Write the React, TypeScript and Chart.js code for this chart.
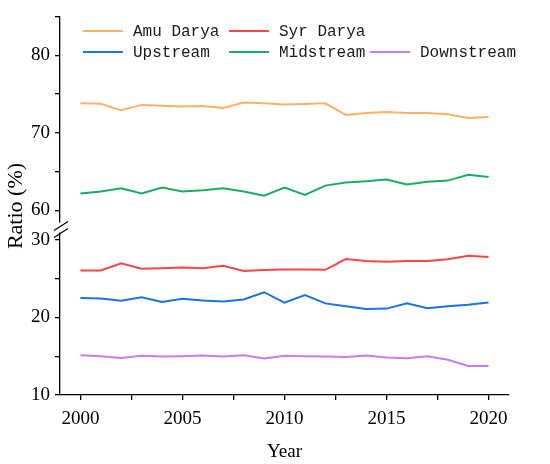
import React, { useEffect, useRef } from "react";
import { Chart, registerables } from "chart.js";

Chart.register(...registerables);

const years = [
  2000, 2001, 2002, 2003, 2004, 2005, 2006, 2007, 2008, 2009, 2010,
  2011, 2012, 2013, 2014, 2015, 2016, 2017, 2018, 2019, 2020,
];

const amuDarya = [
  73.8, 73.75, 72.9, 73.6, 73.5, 73.4, 73.45, 73.2, 73.9, 73.8, 73.65,
  73.7, 73.8, 72.3, 72.55, 72.7, 72.55, 72.55, 72.4, 71.9, 72.05,
];
const syrDarya = [
  26.05, 26.05, 26.97, 26.26, 26.34, 26.43, 26.34, 26.64, 25.97, 26.1, 26.18,
  26.18, 26.13, 27.52, 27.27, 27.18, 27.27, 27.27, 27.48, 27.94, 27.77,
];
const upstream = [
  22.48, 22.44, 22.14, 22.6, 21.97, 22.4, 22.18, 22.06, 22.31, 23.24, 21.89,
  22.86, 21.8, 21.43, 21.09, 21.13, 21.8, 21.18, 21.43, 21.64, 21.93,
];
const midstream = [
  62.2, 62.45, 62.85, 62.2, 62.95, 62.45, 62.6, 62.85, 62.45, 61.9, 62.95,
  62.0, 63.2, 63.6, 63.75, 64.0, 63.35, 63.7, 63.85, 64.6, 64.3,
];
const downstream = [
  15.13, 15.0, 14.78, 15.04, 14.96, 15.0, 15.09, 14.96, 15.13, 14.7, 15.04,
  15.0, 14.96, 14.91, 15.09, 14.83, 14.74, 15.0, 14.53, 13.75, 13.75,
];

// broken y axis: upper and lower part
const topMin = 57.8;
const topMax = 85;
const botMin = 10;
const botMax = 31.57;

const serif = "'Liberation Serif', 'Times New Roman', serif";
const mono = "'Liberation Mono', 'DejaVu Sans Mono', monospace";

// legend slots [lineX, rowY] in the order of the datasets
const legendSlots = [
  [83, 31],
  [229, 31],
  [83, 52],
  [229, 52],
  [370, 52],
];

const toPoints = (vals: number[]) => vals.map((v, i) => ({ x: years[i], y: v }));

const extras = {
  id: "extras",
  afterDraw(chart: any) {
    const ctx = chart.ctx;
    const area = chart.chartArea;
    const yTop = chart.scales.yTop;
    const axisX = area.left;
    const breakY = yTop.bottom;

    ctx.save();
    // gap in the axis line
    ctx.fillStyle = "#fff";
    ctx.fillRect(axisX - 2, breakY - 5, 4, 10);
    // break marks
    ctx.strokeStyle = "#000";
    ctx.lineWidth = 1.2;
    ctx.beginPath();
    ctx.moveTo(axisX - 6, breakY + 3);
    ctx.lineTo(axisX + 8, breakY - 6);
    ctx.moveTo(axisX - 6, breakY + 10);
    ctx.lineTo(axisX + 8, breakY + 1);
    ctx.stroke();

    // y title
    ctx.fillStyle = "#000";
    ctx.font = "22px " + serif;
    ctx.textAlign = "center";
    ctx.textBaseline = "middle";
    ctx.translate(16, 206);
    ctx.rotate(-Math.PI / 2);
    ctx.fillText("Ratio (%)", 0, 0);
    ctx.restore();

    // legend
    ctx.save();
    ctx.font = "16px " + mono;
    ctx.textAlign = "left";
    ctx.textBaseline = "middle";
    chart.data.datasets.forEach((ds: any, i: number) => {
      const [lx, ly] = legendSlots[i];
      ctx.strokeStyle = ds.borderColor;
      ctx.lineWidth = 2;
      ctx.beginPath();
      ctx.moveTo(lx, ly);
      ctx.lineTo(lx + 40, ly);
      ctx.stroke();
      ctx.fillStyle = "#1a1a1a";
      ctx.fillText(ds.label, lx + 50, ly + 1);
    });
    ctx.restore();
  },
};

const axisCommon = {
  border: { display: true, color: "#000", width: 1.3 },
  grid: {
    drawOnChartArea: false,
    drawTicks: true,
    tickLength: 5,
    color: "#000",
    lineWidth: 1.3,
  },
};

const yTicks = {
  stepSize: 5,
  includeBounds: false,
  autoSkip: false,
  padding: 5,
  font: { size: 19 },
  callback: (v: any) => (v % 10 === 0 ? String(v) : ""),
};

const App = () => {
  const canvasRef = useRef<HTMLCanvasElement | null>(null);

  useEffect(() => {
    if (!canvasRef.current) return;
    const ctx = canvasRef.current.getContext("2d");
    if (!ctx) return;

    Chart.defaults.font.family = serif;
    Chart.defaults.color = "#000";

    const line = (label: string, vals: number[], color: string, axis: string) => ({
      label,
      data: toPoints(vals),
      borderColor: color,
      backgroundColor: color,
      borderWidth: 2,
      pointRadius: 0,
      tension: 0,
      yAxisID: axis,
    });

    const chart = new Chart(ctx, {
      type: "line",
      data: {
        datasets: [
          line("Amu Darya", amuDarya, "#FFB066", "yTop"),
          line("Syr Darya", syrDarya, "#F84646", "yBot"),
          line("Upstream", upstream, "#1A72E6", "yBot"),
          line("Midstream", midstream, "#18AD62", "yTop"),
          line("Downstream", downstream, "#C77DF0", "yBot"),
        ],
      },
      options: {
        animation: false,
        responsive: false,
        layout: { padding: { top: 14, right: 41, left: 0, bottom: 0 } },
        plugins: { legend: { display: false }, tooltip: { enabled: false } },
        scales: {
          x: {
            ...axisCommon,
            type: "linear",
            min: 1999,
            max: 2021,
            afterFit: (s: any) => {
              s.height = 69;
            },
            ticks: {
              stepSize: 2.5,
              includeBounds: false,
              autoSkip: false,
              maxRotation: 0,
              padding: 8,
              font: { size: 19 },
              callback: (v: any) => (v % 5 === 0 ? String(v) : ""),
            },
            title: {
              display: true,
              text: "Year",
              font: { size: 19 },
              padding: { top: 0, bottom: 1 },
            },
          },
          // stacked axes: the first one listed sits at the bottom
          yBot: {
            ...axisCommon,
            type: "linear",
            position: "left",
            stack: "ratio",
            stackWeight: botMax - botMin,
            min: botMin,
            max: botMax,
            afterFit: (s: any) => {
              s.width = 60;
            },
            ticks: yTicks,
          },
          yTop: {
            ...axisCommon,
            type: "linear",
            position: "left",
            stack: "ratio",
            stackWeight: topMax - topMin,
            min: topMin,
            max: topMax,
            afterFit: (s: any) => {
              s.width = 60;
            },
            ticks: yTicks,
          },
        },
      } as any,
      plugins: [extras],
    });

    return () => {
      chart.destroy();
    };
  }, []);

  return (
    <div style={{ position: "fixed", left: 0, top: 0, width: 550, height: 464, background: "#fff" }}>
      <canvas ref={canvasRef} width={550} height={464} style={{ display: "block" }} />
    </div>
  );
};

export default App;
